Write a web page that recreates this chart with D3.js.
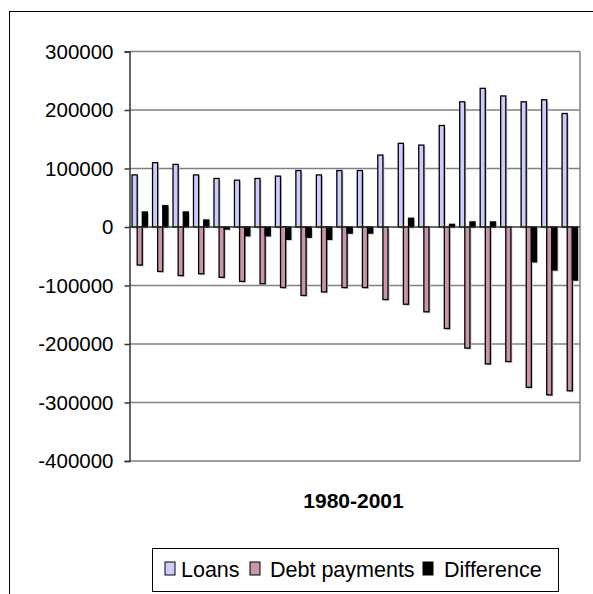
<!DOCTYPE html>
<html>
<head>
<meta charset="utf-8">
<script src="https://cdn.jsdelivr.net/npm/d3@7"></script>
<style>
  body { margin: 0; background: #fff; }
  text { font-family: Arial, "Liberation Sans", sans-serif; fill: #000; }
</style>
</head>
<body>
<div id="chart"></div>
<script>
// Years on the x axis (1980-2001)
const years = d3.range(1980, 2002);

// Series values
const loans = [89000, 110000, 107000, 89000, 83000, 80000, 83000, 87000, 96500, 89000, 96500,
  96500, 123000, 143000, 140000, 173500, 214000, 237000, 224000, 214000, 217500, 194000];
const debtPayments = [-65000, -76000, -83000, -80000, -86000, -93000, -97000, -103500, -117000, -111000, -103500,
  -103500, -124000, -132000, -145000, -173500, -207000, -234000, -230000, -274000, -287000, -280000];
const difference = [25700, 36600, 25700, 12000, -3500, -15000, -15000, -21000, -17500, -21000, -10400,
  -10400, 0, 15000, 0, 4600, 8700, 8700, 0, -59500, -73500, -90700];

const seriesNames = ["Loans", "Debt payments", "Difference"];
const seriesColors = ["#ccccff", "#c995ab", "#000000"];
const yTicks = [300000, 200000, 100000, 0, -100000, -200000, -300000, -400000];

const width = 593, height = 594;
const plot = { left: 129.5, right: 580, top: 51.5, bottom: 461 };

const svg = d3.select("#chart").append("svg")
  .attr("width", width)
  .attr("height", height);

// outer chart border (runs off the right and bottom edges)
svg.append("rect")
  .attr("x", 9.5).attr("y", 11.5)
  .attr("width", 620).attr("height", 620)
  .attr("fill", "none").attr("stroke", "#000").attr("stroke-width", 1);

const x = d3.scaleBand()
  .domain(years)
  .range([plot.left, plot.right])
  .paddingInner(0.25)
  .paddingOuter(0.125);

const xSeries = d3.scaleBand()
  .domain(seriesNames)
  .range([0, x.bandwidth()]);

const y = d3.scaleLinear()
  .domain([-400000, 300000])
  .range([plot.bottom, plot.top]);

// gridlines
svg.append("g")
  .selectAll("line")
  .data(yTicks)
  .enter().append("line")
  .attr("x1", plot.left).attr("x2", plot.right)
  .attr("y1", d => y(d)).attr("y2", d => y(d))
  .attr("stroke", "#808080").attr("stroke-width", 1.5);

// right side of plot area
svg.append("line")
  .attr("x1", plot.right).attr("x2", plot.right)
  .attr("y1", plot.top).attr("y2", plot.bottom)
  .attr("stroke", "#808080").attr("stroke-width", 1.5);

// y axis
const yAxis = d3.axisLeft(y)
  .tickValues(yTicks)
  .tickSize(5)
  .tickPadding(11)
  .tickFormat(d => String(d));

const axisG = svg.append("g")
  .attr("transform", `translate(${plot.left},0)`)
  .call(yAxis);
axisG.select(".domain").attr("stroke", "#333").attr("stroke-width", 1.5);
axisG.selectAll(".tick line").attr("stroke", "#333").attr("stroke-width", 1.5);
axisG.selectAll(".tick text")
  .style("font-size", "20.5px")
  .style("font-family", "Arial, 'Liberation Sans', sans-serif")
  .attr("fill", "#000");

// bars
const table = years.map((yr, i) => ({
  year: yr,
  values: [loans[i], debtPayments[i], difference[i]]
}));

const groups = svg.append("g")
  .selectAll("g")
  .data(table)
  .enter().append("g")
  .attr("transform", d => `translate(${x(d.year)},0)`);

const barData = d => d.values.map((v, j) => ({ name: seriesNames[j], value: v, color: seriesColors[j] }));

// soft shadow behind the bars
groups.selectAll("rect.shadow")
  .data(barData)
  .enter().append("rect")
  .attr("class", "shadow")
  .attr("x", d => xSeries(d.name) + 1.5)
  .attr("y", d => Math.min(y(d.value), y(0)) + 1.5)
  .attr("width", xSeries.bandwidth())
  .attr("height", d => Math.abs(y(d.value) - y(0)))
  .attr("fill", "#c8c8c8");

groups.selectAll("rect.bar")
  .data(barData)
  .enter().append("rect")
  .attr("class", "bar")
  .attr("x", d => xSeries(d.name))
  .attr("y", d => Math.min(y(d.value), y(0)))
  .attr("width", xSeries.bandwidth())
  .attr("height", d => Math.abs(y(d.value) - y(0)))
  .attr("fill", d => d.color)
  .attr("stroke", "#000")
  .attr("stroke-width", 1.3);

// zero line on top
svg.append("line")
  .attr("x1", plot.left).attr("x2", plot.right)
  .attr("y1", y(0)).attr("y2", y(0))
  .attr("stroke", "#333").attr("stroke-width", 1.2);

// x axis title
svg.append("text")
  .attr("x", 353.5)
  .attr("y", 508)
  .attr("text-anchor", "middle")
  .style("font-size", "21px")
  .style("font-weight", "bold")
  .text("1980-2001");

// legend
const legend = svg.append("g");
legend.append("rect")
  .attr("x", 152.5).attr("y", 548.5)
  .attr("width", 406).attr("height", 43)
  .attr("fill", "#fff").attr("stroke", "#000").attr("stroke-width", 1);

const swatchX = [165, 250, 423];
const labelX = [181, 270, 444];
const legendItems = legend.selectAll("g.item")
  .data(seriesNames)
  .enter().append("g")
  .attr("class", "item");

legendItems.append("rect")
  .attr("x", (d, i) => swatchX[i]).attr("y", 562)
  .attr("width", 10).attr("height", 13)
  .attr("fill", (d, i) => seriesColors[i])
  .attr("stroke", "#000").attr("stroke-width", 1);

legendItems.append("text")
  .attr("x", (d, i) => labelX[i])
  .attr("y", 577)
  .style("font-size", "21.5px")
  .text(d => d);
</script>
</body>
</html>
